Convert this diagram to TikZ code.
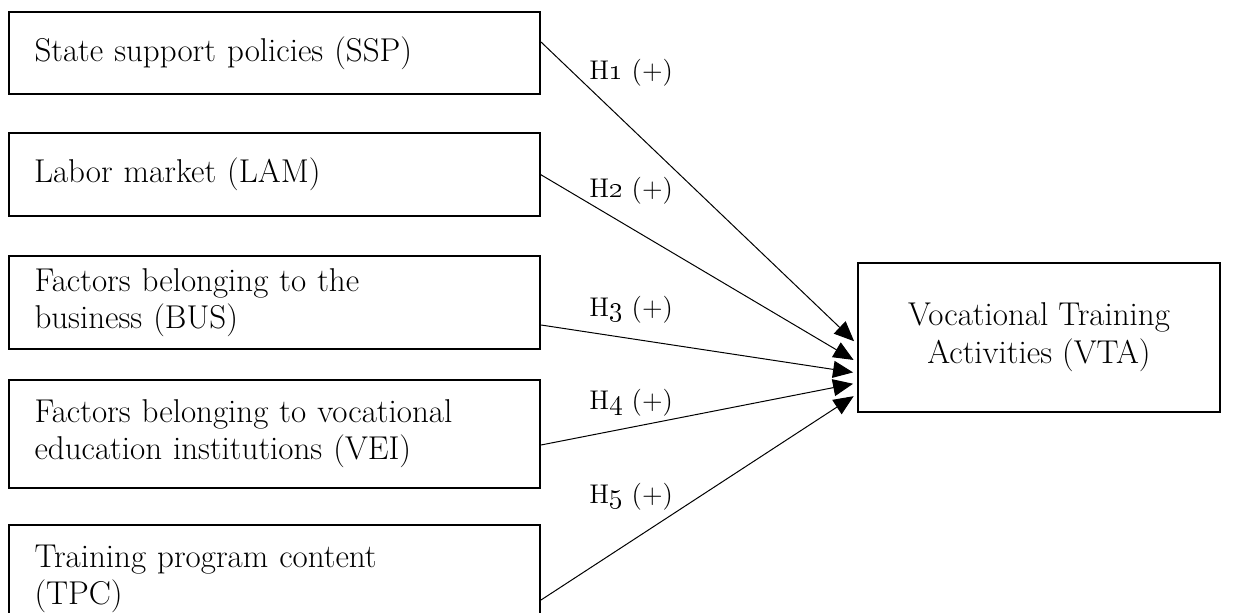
\documentclass[tikz,border=0pt]{standalone}
\usetikzlibrary{arrows.meta}
\begin{document}
\begin{tikzpicture}[x=0.5pt,y=-0.5pt,
  factor/.style={draw, line width=1pt, rectangle, minimum width=265.5pt, text width=240pt, inner xsep=12.75pt, align=left, font=\fontsize{16.5}{18.5}\selectfont},
  target/.style={draw, line width=1pt, rectangle, minimum width=181pt, minimum height=74.5pt, align=center, font=\fontsize{16.5}{19}\selectfont},
  link/.style={line width=0.5pt, -{Triangle[length=10pt,width=8.5pt]}, shorten >=2pt},
  hyp/.style={anchor=west, font=\fontsize{13.5}{16}\selectfont, inner sep=0pt}]
\clip (0,0) rectangle (1245,613);
\node[factor, minimum height=41pt] (ssp) at (274.5,53) {State support policies (SSP)};
\node[factor, minimum height=41.5pt] (lam) at (274,174.5) {Labor market (LAM)};
\node[factor, minimum height=46.5pt] (bus) at (274.5,302.5) {Factors belonging to the\\ business (BUS)};
\node[factor, minimum height=54pt] (vei) at (274.5,434) {Factors belonging to vocational\\ education institutions (VEI)};
\node[factor, minimum height=54pt] (tpc) at (274.5,579) {Training program content\\ (TPC)};
\node[target] (vta) at (1039,337.5) {Vocational Training\\ Activities (VTA)};
\node[hyp] (h1) at (589,73) {H\oldstylenums{1} (+)};
\node[hyp] (h2) at (589,191) {H\oldstylenums{2} (+)};
\node[hyp] (h3) at (589,310) {H\oldstylenums{3} (+)};
\node[hyp] (h4) at (589,403) {H\oldstylenums{4} (+)};
\node[hyp] (h5) at (589,497) {H\oldstylenums{5} (+)};
\draw[link] ([yshift=5.5pt]ssp.east) -- ([yshift=-3.25pt]vta.west);
\draw[link] (lam.east) -- ([yshift=-12.25pt]vta.west);
\draw[link] ([yshift=-11.25pt]bus.east) -- ([yshift=-17.75pt]vta.west);
\draw[link] ([yshift=-5.5pt]vei.east) -- ([yshift=-22.75pt]vta.west);
\draw[link] ([yshift=-10.5pt]tpc.east) -- ([yshift=-28.25pt]vta.west);
\end{tikzpicture}
\end{document}
